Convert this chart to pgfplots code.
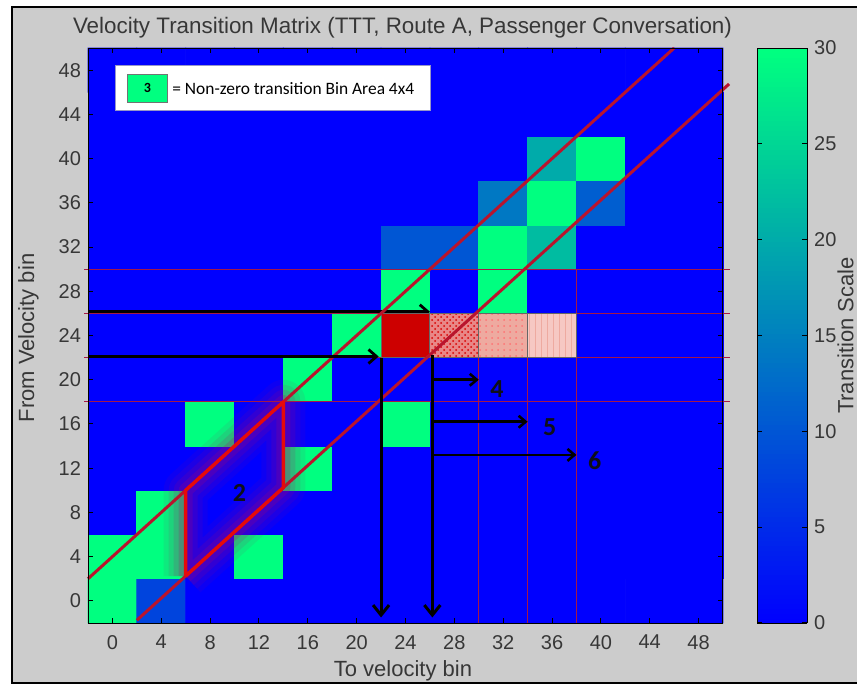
\documentclass[border=0pt]{standalone}
\usepackage{fontspec}
\setmainfont{Liberation Sans}
\newfontfamily\calibri{Carlito}
\usepackage{pgfplots}
\pgfplotsset{compat=1.18}
\usetikzlibrary{arrows.meta,patterns}
\definecolor{figgray}{RGB}{204,204,204}
\definecolor{txt}{RGB}{55,55,55}
\definecolor{diag}{RGB}{185,20,45}
\definecolor{thinred}{RGB}{165,25,70}
\definecolor{brightred}{RGB}{230,10,10}
\definecolor{springg}{RGB}{0,255,128}
\definecolor{glow}{RGB}{175,0,110}
\definecolor{cellred}{RGB}{205,0,0}
\definecolor{pinkA}{RGB}{232,135,135}
\definecolor{pinkB}{RGB}{238,170,160}
\definecolor{pinkC}{RGB}{246,200,195}
\definecolor{numcol}{RGB}{15,15,25}
\definecolor{legborder}{RGB}{150,150,200}

\begin{document}
\begin{tikzpicture}[x=1pt,y=1pt]
\useasboundingbox (0,0) rectangle (428.5,343);
\fill[white] (0,0) rectangle (428.5,343);
\filldraw[fill=figgray, draw=black, line width=1.2pt] (6,1.5) rectangle (440,339.5);
\begin{axis}[
  at={(44pt,31.5pt)}, anchor=south west,
  scale only axis, width=317.5pt, height=287.5pt,
  xmin=-2, xmax=50, ymin=-2, ymax=50,
  xtick={0,4,...,48}, ytick={0,4,...,48},
  tick align=inside, major tick length=2.5pt,
  tick style={black, line width=0.5pt},
  axis line style={black, line width=0.5pt},
  tick label style={font=\fontsize{10}{12}\selectfont, text=txt},
  xticklabel style={yshift=-2.5pt},
  /pgf/number format/assume math mode=true,
  axis on top, clip=false,
  colormap={winter}{rgb255=(0,0,255) rgb255=(0,255,128)},
  point meta min=0, point meta max=30,
  title={Velocity Transition Matrix (TTT, Route A, Passenger Conversation)},
  title style={at={(axis description cs:0.5,1)}, anchor=base, yshift=1.5pt, xshift=-1.5pt, inner sep=0pt, font=\fontsize{11.2}{13}\selectfont, text=txt},
  xlabel={To velocity bin},
  xlabel style={at={(axis description cs:0.5,0)}, anchor=north, yshift=-18.5pt, xshift=-1.25pt, inner sep=0pt, font=\fontsize{11}{13}\selectfont, text=txt},
  ylabel={From Velocity bin},
  ylabel style={at={(axis description cs:0,0.5)}, anchor=south, yshift=24.5pt, xshift=-1.25pt, inner sep=0pt, font=\fontsize{11}{13}\selectfont, text=txt},
  colorbar sampled,
  colorbar style={
    at={(parent axis.north east)}, anchor=north west, xshift=8.5pt,
    width=25pt, samples=120,
    ytick={0,5,...,30},
    tick align=inside, major tick length=2.5pt,
    tick style={black, line width=0.5pt},
    yticklabel style={font=\fontsize{10}{12}\selectfont, text=txt},
    /pgf/number format/assume math mode=true,
    ylabel={Transition Scale},
    ylabel style={at={(axis description cs:1,0.5)}, anchor=north, yshift=-15pt, inner sep=0pt, font=\fontsize{11}{13}\selectfont, text=txt},
  },
]
% heat map (x = to bin, y = from bin)
\addplot[matrix plot*, mesh/cols=13, point meta=explicit] table[meta=c, row sep=\\] {
x y c\\
0 0 30\\ 4 0 8\\ 8 0 0\\ 12 0 0\\ 16 0 0\\ 20 0 0\\ 24 0 0\\ 28 0 0\\ 32 0 0\\ 36 0 0\\ 40 0 0\\ 44 0 0\\ 48 0 0\\
0 4 30\\ 4 4 30\\ 8 4 0\\ 12 4 30\\ 16 4 0\\ 20 4 0\\ 24 4 0\\ 28 4 0\\ 32 4 0\\ 36 4 0\\ 40 4 0\\ 44 4 0\\ 48 4 0\\
0 8 0\\ 4 8 30\\ 8 8 0\\ 12 8 0\\ 16 8 0\\ 20 8 0\\ 24 8 0\\ 28 8 0\\ 32 8 0\\ 36 8 0\\ 40 8 0\\ 44 8 0\\ 48 8 0\\
0 12 0\\ 4 12 0\\ 8 12 0\\ 12 12 0\\ 16 12 30\\ 20 12 0\\ 24 12 0\\ 28 12 0\\ 32 12 0\\ 36 12 0\\ 40 12 0\\ 44 12 0\\ 48 12 0\\
0 16 0\\ 4 16 0\\ 8 16 30\\ 12 16 0\\ 16 16 0\\ 20 16 0\\ 24 16 30\\ 28 16 0\\ 32 16 0\\ 36 16 0\\ 40 16 0\\ 44 16 0\\ 48 16 0\\
0 20 0\\ 4 20 0\\ 8 20 0\\ 12 20 0\\ 16 20 30\\ 20 20 0\\ 24 20 0\\ 28 20 0\\ 32 20 0\\ 36 20 0\\ 40 20 0\\ 44 20 0\\ 48 20 0\\
0 24 0\\ 4 24 0\\ 8 24 0\\ 12 24 0\\ 16 24 0\\ 20 24 30\\ 24 24 0\\ 28 24 0\\ 32 24 0\\ 36 24 0\\ 40 24 0\\ 44 24 0\\ 48 24 0\\
0 28 0\\ 4 28 0\\ 8 28 0\\ 12 28 0\\ 16 28 0\\ 20 28 0\\ 24 28 30\\ 28 28 0\\ 32 28 30\\ 36 28 0\\ 40 28 0\\ 44 28 0\\ 48 28 0\\
0 32 0\\ 4 32 0\\ 8 32 0\\ 12 32 0\\ 16 32 0\\ 20 32 0\\ 24 32 10\\ 28 32 10\\ 32 32 30\\ 36 32 22\\ 40 32 0\\ 44 32 0\\ 48 32 0\\
0 36 0\\ 4 36 0\\ 8 36 0\\ 12 36 0\\ 16 36 0\\ 20 36 0\\ 24 36 0\\ 28 36 0\\ 32 36 14\\ 36 36 30\\ 40 36 11\\ 44 36 0\\ 48 36 0\\
0 40 0\\ 4 40 0\\ 8 40 0\\ 12 40 0\\ 16 40 0\\ 20 40 0\\ 24 40 0\\ 28 40 0\\ 32 40 0\\ 36 40 20\\ 40 40 30\\ 44 40 0\\ 48 40 0\\
0 44 0\\ 4 44 0\\ 8 44 0\\ 12 44 0\\ 16 44 0\\ 20 44 0\\ 24 44 0\\ 28 44 0\\ 32 44 0\\ 36 44 0\\ 40 44 0\\ 44 44 0\\ 48 44 0\\
0 48 0\\ 4 48 0\\ 8 48 0\\ 12 48 0\\ 16 48 0\\ 20 48 0\\ 24 48 0\\ 28 48 0\\ 32 48 0\\ 36 48 0\\ 40 48 0\\ 44 48 0\\ 48 48 0\\
};
% glow around region 2
\addplot[draw=glow, line width=22pt, opacity=0.08, line join=round, no marks] coordinates {(6,2.25) (6,10) (14,18) (14,10.25) (6,2.25)};
\addplot[draw=glow, line width=17pt, opacity=0.1, line join=round, no marks] coordinates {(6,2.25) (6,10) (14,18) (14,10.25) (6,2.25)};
\addplot[draw=glow, line width=12pt, opacity=0.14, line join=round, no marks] coordinates {(6,2.25) (6,10) (14,18) (14,10.25) (6,2.25)};
\addplot[draw=glow, line width=7pt, opacity=0.2, line join=round, no marks] coordinates {(6,2.25) (6,10) (14,18) (14,10.25) (6,2.25)};
% thin red guide lines
\addplot[thinred, line width=0.5pt, no marks] coordinates {(-2.3,30) (50.6,30)};
\addplot[thinred, line width=0.5pt, no marks] coordinates {(-2.3,26) (50.6,26)};
\addplot[thinred, line width=0.5pt, no marks] coordinates {(-2.3,22) (50.6,22)};
\addplot[thinred, line width=0.5pt, no marks] coordinates {(-2.3,18) (50.6,18)};
\addplot[thinred, line width=0.5pt, no marks] coordinates {(30,22) (30,-2)};
\addplot[thinred, line width=0.5pt, no marks] coordinates {(34,22) (34,-2)};
\addplot[thinred, line width=0.5pt, no marks] coordinates {(38,30) (38,-2)};
% upper black arrow
\addplot[black, line width=1.4pt, no marks, -{Straight Barb[length=4pt,width=7pt]}] coordinates {(-2,26.15) (26,26.15)};
% highlighted cells
\addplot[draw=black!60, line width=0.5pt, fill=cellred, no marks] coordinates {(22,22) (26,22) (26,26) (22,26) (22,22)};
\addplot[draw=black!60, line width=0.5pt, fill=pinkA, postaction={pattern=crosshatch dots, pattern color=red!85!black}, no marks] coordinates {(26,22) (30,22) (30,26) (26,26) (26,22)};
\addplot[draw=black!60, line width=0.5pt, fill=pinkB, postaction={pattern=dots, pattern color=red!55}, no marks] coordinates {(30,22) (34,22) (34,26) (30,26) (30,22)};
\addplot[draw=black!60, line width=0.5pt, fill=pinkC, postaction={pattern=vertical lines, pattern color=pinkB}, no marks] coordinates {(34,22) (38,22) (38,26) (34,26) (34,22)};
% diagonal band
\addplot[diag, line width=1.5pt, no marks] coordinates {(-2,2) (46,50)};
\addplot[diag, line width=1.5pt, no marks] coordinates {(2,-1.75) (50.5,46.75)};
\addplot[brightred, line width=1.7pt, line join=round, no marks] coordinates {(6,2.25) (6,10) (14,18) (14,10.25) (6,2.25)};
% black arrows
\addplot[black, line width=1.4pt, no marks, -{Straight Barb[length=4pt,width=7pt]}] coordinates {(-2,22.1) (21.8,22.1)};
\addplot[black, line width=1.5pt, no marks, -{Straight Barb[length=5pt,width=8pt]}] coordinates {(22,22) (22,-1.5)};
\addplot[black, line width=1.5pt, no marks, -{Straight Barb[length=5pt,width=8pt]}] coordinates {(26.2,22.2) (26.2,-1.5)};
\addplot[black, line width=1.3pt, no marks, -{Straight Barb[length=3.5pt,width=6pt]}] coordinates {(26.2,20) (30,20)};
\addplot[black, line width=1.3pt, no marks, -{Straight Barb[length=3.5pt,width=6pt]}] coordinates {(26.2,16.2) (34,16.2)};
\addplot[black, line width=1.3pt, no marks, -{Straight Barb[length=3.5pt,width=6pt]}] coordinates {(26.2,13.2) (38,13.2)};
% labels
\node[font=\calibri\bfseries\fontsize{13}{15}\selectfont, text=numcol] at (axis cs:10.4,9.8) {2};
\node[font=\calibri\bfseries\fontsize{13}{15}\selectfont, text=numcol] at (axis cs:31.5,19.2) {4};
\node[font=\calibri\bfseries\fontsize{13}{15}\selectfont, text=numcol] at (axis cs:35.8,15.7) {5};
\node[font=\calibri\bfseries\fontsize{13}{15}\selectfont, text=numcol] at (axis cs:39.5,12.7) {6};
% legend box
\node[anchor=north west, draw=legborder, fill=white, line width=0.6pt, minimum width=157.5pt, minimum height=22.5pt, inner sep=0pt] (leg) at (axis cs:0.21,48.46) {};
\node[fill=springg, draw=black!55, line width=0.4pt, minimum width=20pt, minimum height=14pt, inner sep=0pt, anchor=west, font=\calibri\bfseries\fontsize{7}{8}\selectfont] at ([xshift=6pt]leg.west) {3};
\node[anchor=west, inner sep=0pt, font=\calibri\fontsize{8.7}{10}\selectfont] at ([xshift=28.5pt]leg.west) {= Non-zero transition Bin Area 4x4};
\end{axis}
\end{tikzpicture}
\end{document}
